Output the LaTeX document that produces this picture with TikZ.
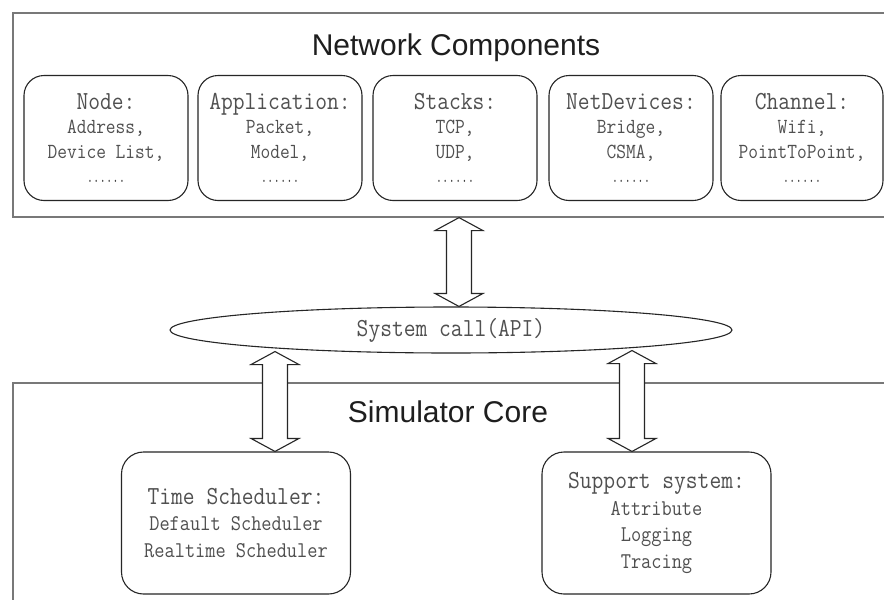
\documentclass[tikz,border=0pt]{standalone}
\usepackage{fontspec}
\setsansfont{Liberation Sans}
\newfontfamily\cmono[FakeStretch=0.88]{Latin Modern Mono}
\newfontfamily\dotfont[FakeStretch=0.62]{Latin Modern Mono}
\usetikzlibrary{shapes.geometric,calc}
\definecolor{txtgray}{RGB}{80,80,80}
\definecolor{linegray}{RGB}{120,120,120}
\definecolor{titleblack}{RGB}{30,30,30}
\newcommand\hdf{\cmono\fontsize{26}{26}\selectfont}
\newcommand\dotsline{{\dotfont\fontsize{20}{20}\selectfont\color{black!75}......}}
\newcommand\dblarrow[2]{%
  \draw[blockarrow] let \p1=(#1), \p2=(#2) in
    (\x1,\y1) -- (\x1+24pt,\y1-13pt) -- (\x1+12.5pt,\y1-13pt) -- (\x1+12.5pt,\y2+13pt)
    -- (\x1+24pt,\y2+13pt) -- (\x1,\y2) -- (\x1-24pt,\y2+13pt) -- (\x1-12.5pt,\y2+13pt)
    -- (\x1-12.5pt,\y1-13pt) -- (\x1-24pt,\y1-13pt) -- cycle;}
\begin{document}
\begin{tikzpicture}[x=1pt,y=-1pt,
  outerbox/.style={draw=linegray,line width=1.6pt,rectangle,inner sep=0pt,anchor=north west},
  compbox/.style={draw=black!85,line width=1.1pt,rounded corners=20pt,minimum width=164pt,
    minimum height=125pt,inner sep=0pt,align=center,text=txtgray,
    font=\cmono\fontsize{21.5}{24.5}\selectfont},
  corebox/.style={compbox,rounded corners=22pt,minimum width=229pt,minimum height=142pt,
    font=\cmono\fontsize{22.5}{26.5}\selectfont},
  apinode/.style={ellipse,draw=black!85,line width=1.1pt,minimum width=562pt,minimum height=46pt,
    inner sep=0pt,text=txtgray,font=\hdf},
  titletext/.style={font=\sffamily\fontsize{30}{30}\selectfont,text=titleblack,anchor=base,inner sep=0pt},
  blockarrow/.style={draw=black!85,line width=1.1pt,fill=white,line join=miter}]
\useasboundingbox (0,0) rectangle (884,600);
\clip (0,0) rectangle (884,600);
\fill[white] (0,0) rectangle (884,600);

% outer frames
\node[outerbox,minimum width=880pt,minimum height=204pt] (net) at (12,12) {};
\node[outerbox,minimum width=880pt,minimum height=240pt] (core) at (12,382) {};

% titles
\node[titletext] (nettitle) at (456,55) {Network Components};
\node[titletext] (coretitle) at (448,422) {Simulator Core};

% network components
\node[compbox] (node) at (106,138) {{\hdf Node:}\\Address,\\Device List,\\\dotsline};
\node[compbox] (app) at (280,138) {{\hdf Application:}\\Packet,\\Model,\\\dotsline};
\node[compbox] (stk) at (455,138) {{\hdf Stacks:}\\TCP,\\UDP,\\\dotsline};
\node[compbox] (dev) at (631,138) {{\hdf NetDevices:}\\Bridge,\\CSMA,\\\dotsline};
\node[compbox,minimum width=162pt] (chn) at (802,138) {{\hdf Channel:}\\Wifi,\\PointToPoint,\\\dotsline};

% API
\node[apinode] (api) at (451,330) {System call(API)};

% simulator core
\node[corebox] (sched) at (236,523) {{\hdf Time Scheduler:}\\Default Scheduler\\Realtime Scheduler};
\node[corebox] (support) at (656.5,523) {{\hdf Support system:}\\Attribute\\Logging\\Tracing};

% arrows
\coordinate (ub) at ([xshift=8pt]api.north);
\coordinate (ua) at (ub |- net.south);
\coordinate (lb) at ([xshift=39pt]sched.north);
\coordinate (la) at ([yshift=2pt]lb |- api.south);
\coordinate (rb) at ([xshift=-24.5pt]support.north);
\coordinate (ra) at ([yshift=3pt]rb |- api.south);
\dblarrow{ua}{ub}
\dblarrow{la}{lb}
\dblarrow{ra}{rb}
\end{tikzpicture}
\end{document}
